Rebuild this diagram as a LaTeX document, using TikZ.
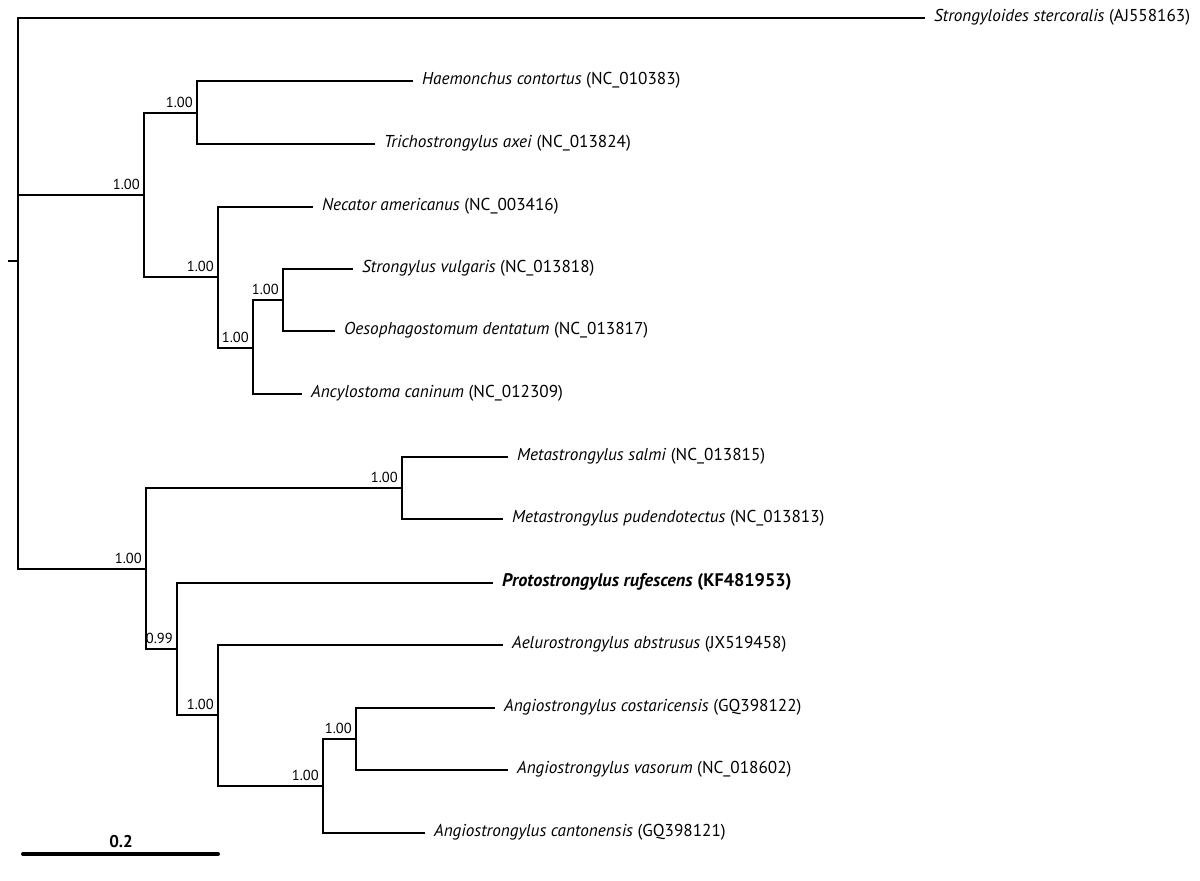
\documentclass[tikz,border=0pt]{standalone}
\usepackage{fontspec}
\setmainfont{PT Sans}
\begin{document}
\begin{tikzpicture}[x=1pt,y=-1pt,
  br/.style={line width=2.3pt},
  tip/.style={anchor=west, inner xsep=9pt, inner ysep=0pt, text height=0.7em, text depth=0pt, font=\fontsize{17.2}{19}\selectfont},
  bs/.style={anchor=south east, inner sep=0pt, xshift=-4pt, yshift=5pt, text depth=0pt, font=\fontsize{14.5}{16}\selectfont},
  scalebar/.style={line width=4pt, line cap=round}]
\useasboundingbox (0,0) rectangle (1200,881);
% internal nodes
\coordinate (root) at (18,261);
\coordinate (stub) at (8,261);
\coordinate (A) at (144,195);
\coordinate (A1) at (197,113);
\coordinate (A2) at (218,277);
\coordinate (A21) at (253,348);
\coordinate (A211) at (283,300);
\coordinate (B) at (146,569);
\coordinate (B1) at (402,488);
\coordinate (B2) at (177,649);
\coordinate (B21) at (218,715);
\coordinate (B211) at (323,786);
\coordinate (B2111) at (356,739);
% tips
\node[tip] (sst) at (925,18) {\textit{Strongyloides stercoralis} (AJ558163)};
\node[tip] (hco) at (413,81) {\textit{Haemonchus contortus} (NC\_010383)};
\node[tip] (tax) at (375,144) {\textit{Trichostrongylus axei} (NC\_013824)};
\node[tip] (nam) at (313,207) {\textit{Necator americanus} (NC\_003416)};
\node[tip] (svu) at (353,269) {\textit{Strongylus vulgaris} (NC\_013818)};
\node[tip] (ode) at (335,331) {\textit{Oesophagostomum dentatum} (NC\_013817)};
\node[tip] (aca) at (302,394) {\textit{Ancylostoma caninum} (NC\_012309)};
\node[tip] (msa) at (508,457) {\textit{Metastrongylus salmi} (NC\_013815)};
\node[tip] (mpu) at (503,519) {\textit{Metastrongylus pudendotectus} (NC\_013813)};
\node[tip, font=\fontsize{18.2}{20}\selectfont] (pru) at (493,583) {\textbf{\textit{Protostrongylus rufescens} (KF481953)}};
\node[tip] (aab) at (503,645) {\textit{Aelurostrongylus abstrusus} (JX519458)};
\node[tip] (aco) at (495,708) {\textit{Angiostrongylus costaricensis} (GQ398122)};
\node[tip] (ava) at (508,770) {\textit{Angiostrongylus vasorum} (NC\_018602)};
\node[tip] (acn) at (425,833) {\textit{Angiostrongylus cantonensis} (GQ398121)};
% branches
\draw[br] (stub) -- (root);
\draw[br] (root) |- (sst.west);
\draw[br] (root) |- (A);
\draw[br] (root) |- (B);
\draw[br] (A) |- (A1);
\draw[br] (A) |- (A2);
\draw[br] (A1) |- (hco.west);
\draw[br] (A1) |- (tax.west);
\draw[br] (A2) |- (nam.west);
\draw[br] (A2) |- (A21);
\draw[br] (A21) |- (A211);
\draw[br] (A21) |- (aca.west);
\draw[br] (A211) |- (svu.west);
\draw[br] (A211) |- (ode.west);
\draw[br] (B) |- (B1);
\draw[br] (B) |- (B2);
\draw[br] (B1) |- (msa.west);
\draw[br] (B1) |- (mpu.west);
\draw[br] (B2) |- (pru.west);
\draw[br] (B2) |- (B21);
\draw[br] (B21) |- (aab.west);
\draw[br] (B21) |- (B211);
\draw[br] (B211) |- (B2111);
\draw[br] (B211) |- (acn.west);
\draw[br] (B2111) |- (aco.west);
\draw[br] (B2111) |- (ava.west);
% support values
\node[bs] (lA) at (A) {1.00};
\node[bs] (lA1) at (A1) {1.00};
\node[bs] (lA2) at (A2) {1.00};
\node[bs] (lA21) at (A21) {1.00};
\node[bs] (lA211) at (A211) {1.00};
\node[bs] (lB) at (B) {1.00};
\node[bs] (lB1) at (B1) {1.00};
\node[bs] (lB2) at (B2) {0.99};
\node[bs] (lB21) at (B21) {1.00};
\node[bs] (lB211) at (B211) {1.00};
\node[bs] (lB2111) at (B2111) {1.00};
% scale bar
\coordinate (s0) at (23,854);
\coordinate (s1) at (218,854);
\draw[scalebar] (s0) -- (s1);
\node[font=\fontsize{17}{19}\selectfont\bfseries, inner sep=0pt] (scl) at (121,842) {0.2};
\end{tikzpicture}
\end{document}
